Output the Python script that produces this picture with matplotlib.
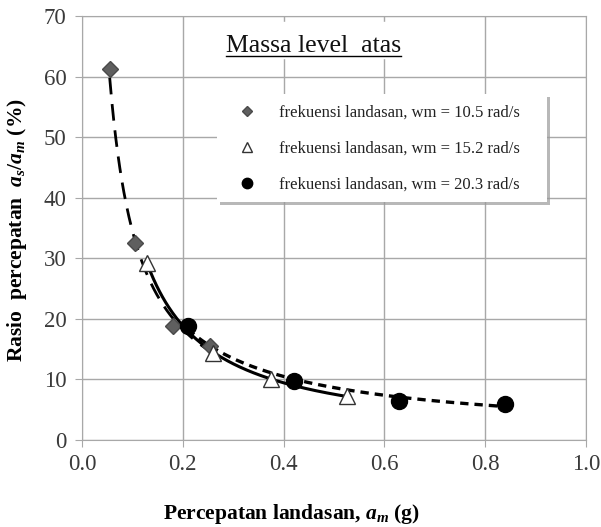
import numpy as np
import matplotlib
matplotlib.use("Agg")
import matplotlib.pyplot as plt

plt.rcParams['font.family'] = ['Liberation Serif', 'DejaVu Serif']
plt.rcParams['mathtext.fontset'] = 'custom'
plt.rcParams['mathtext.it'] = 'Liberation Serif:italic:bold'
plt.rcParams['mathtext.rm'] = 'Liberation Serif:bold'
plt.rcParams['mathtext.bf'] = 'Liberation Serif:bold'

# Data
x_105 = [0.055, 0.105, 0.18, 0.255]
y_105 = [61.2, 32.6, 18.8, 15.5]
x_152 = [0.13, 0.26, 0.375, 0.525]
y_152 = [29.3, 14.3, 10.0, 7.3]
x_203 = [0.21, 0.42, 0.63, 0.84]
y_203 = [18.9, 9.8, 6.5, 6.0]
labels = ["frekuensi landasan, wm = 10.5 rad/s",
          "frekuensi landasan, wm = 15.2 rad/s",
          "frekuensi landasan, wm = 20.3 rad/s"]
xticks = [0.0, 0.2, 0.4, 0.6, 0.8, 1.0]
yticks = [0, 10, 20, 30, 40, 50, 60, 70]


def power_fit(xs, ys):
    b, ln_a = np.polyfit(np.log(xs), np.log(ys), 1)
    xx = np.linspace(min(xs), max(xs), 200)
    return xx, np.exp(ln_a) * xx ** b


fig = plt.figure(figsize=(6.01, 5.27), dpi=100)
ax = fig.add_axes([0.1364, 0.165, 0.8386, 0.8046])

# trend lines
xx, yy = power_fit(x_105, y_105)
ax.plot(xx, yy, color='black', lw=2.0, ls=(0, (6, 3.5)), zorder=3)
xx, yy = power_fit(x_152, y_152)
ax.plot(xx, yy, color='black', lw=2.2, ls='-', zorder=3)
xx, yy = power_fit(x_203, y_203)
ax.plot(xx, yy, color='black', lw=2.4, ls=(0, (2.5, 1.8)), zorder=3)

ax.plot(x_105, y_105, ls='none', marker='D', ms=8, color='#5f5f5f',
        mec='#4a4a4a', label=labels[0], zorder=4)
ax.plot(x_152, y_152, ls='none', marker='^', ms=11, mfc='white',
        mec='#333333', mew=1.0, label=labels[1], zorder=4)
ax.plot(x_203, y_203, ls='none', marker='o', ms=11.5, color='black',
        label=labels[2], zorder=4)

ax.set_xlim(0, 1.0)
ax.set_ylim(0, 70)
ax.set_xticks(xticks)
ax.set_xticklabels([f"{v:.1f}" for v in xticks])
ax.set_yticks(yticks)
ax.grid(True, color='#a8a8a8', lw=1.0)
ax.set_axisbelow(True)
for s in ax.spines.values():
    s.set_color('#a8a8a8')
ax.tick_params(axis='both', colors='#a8a8a8', labelcolor='#3a3a3a',
               labelsize=16.5, length=5, direction='out')
ax.tick_params(axis='y', pad=6)
ax.tick_params(axis='x', pad=5)

ax.set_xlabel(r"Percepatan landasan, $a_m$ (g)", fontsize=15.5,
              fontweight='bold')
ax.xaxis.set_label_coords(0.415, -0.145)
ax.set_ylabel(r"Rasio  percepatan  $a_s/a_m$ (%)", fontsize=15.5,
              fontweight='bold')
ax.yaxis.set_label_coords(-0.105, 0.495)

title = ax.text(0.46, 0.915, "Massa level  atas", transform=ax.transAxes,
                fontsize=18.5, ha='center', va='baseline', color='#111111',
                zorder=6)
ax.axvspan(0.29, 0.63, ymin=0.9, ymax=0.985, color='white', zorder=1)
fig.canvas.draw()
bb = title.get_window_extent().transformed(ax.transAxes.inverted())
ax.plot([bb.x0, bb.x1], [0.905, 0.905], transform=ax.transAxes,
        color='black', lw=1.0, zorder=6)

leg = ax.legend(loc='upper left', bbox_to_anchor=(0.268, 0.295, 0.655, 0.52),
                mode='expand', fontsize=12, frameon=True, fancybox=False,
                shadow={'color': '#9a9a9a', 'alpha': 0.7},
                edgecolor='white', framealpha=1, borderpad=0.6,
                labelspacing=1.2, handletextpad=0.7, handlelength=2.4,
                markerscale=0.65, borderaxespad=0)
leg.get_frame().set_linewidth(0)
for t in leg.get_texts():
    t.set_color('#222222')

fig.savefig('out.png', dpi=100)
